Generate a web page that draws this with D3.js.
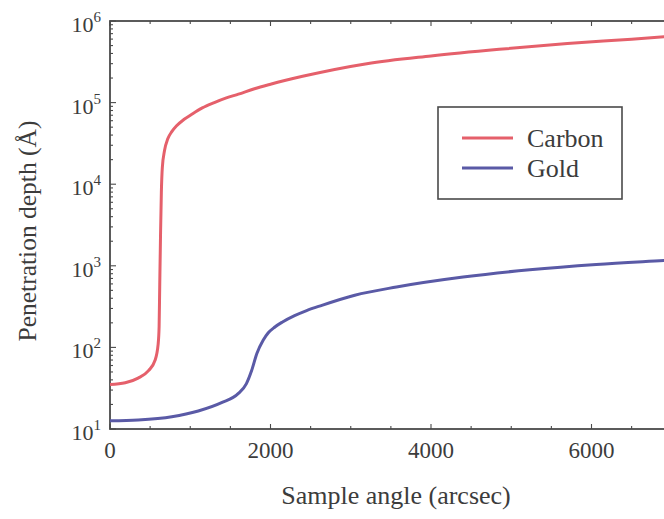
<!DOCTYPE html>
<html><head><meta charset="utf-8">
<script src="https://cdn.jsdelivr.net/npm/d3@7"></script>
<style>
html,body{margin:0;padding:0;background:#fff;}
svg{display:block;font-family:"Liberation Serif","Times New Roman",serif;}
</style></head>
<body><svg id="c" width="664" height="519"></svg>
<script>
// Data
const carbonAngle = [0, 190, 350, 480, 560, 600, 612, 620, 630, 640, 652, 680, 720, 770, 830, 920, 1020, 1150, 1300, 1450, 1600, 1800, 2000, 2400, 3200, 4000, 4850, 5700, 6500, 7000];
const carbonDepth = [35, 36.8, 42, 52, 69, 110, 180, 600, 2500, 8000, 16000, 26000, 36000, 44000, 52000, 62000, 72000, 86000, 100000, 114000, 127000, 148000, 168000, 210000, 300000, 373000, 450000, 530000, 598000, 650000];
const goldAngle = [0, 350, 770, 1100, 1390, 1600, 1700, 1765, 1830, 1910, 1970, 2055, 2150, 2300, 2450, 2640, 3050, 3570, 4400, 5230, 6060, 6900, 7000];
const goldDepth = [12.6, 12.9, 14.1, 16.6, 21, 27.3, 36, 52, 84, 123, 150, 178, 205, 245, 283, 328, 436, 550, 728, 895, 1040, 1160, 1175];
const seriesNames = ["Carbon", "Gold"];
const xTickValues = [0, 2000, 4000, 6000];
const yDecades = [1, 2, 3, 4, 5, 6];
const xLabel = "Sample angle (arcsec)";
const yLabel = "Penetration depth (Å)";

(function () {
const colors = ["#e5606b", "#5a5aa6"];
const textColor = "#3c3c3c";
const frameColor = "#4a4a4a";

const svg = d3.select("#c");
const x = d3.scaleLinear().domain([0, 7000]).range([110, 671.75]);
const y = d3.scaleLog().domain([10, 1e6]).range([429, 21]);

const pL = x(0), pR = x(7000), pT = y(1e6), pB = y(10);
svg.append("rect").attr("x", pL).attr("y", pT).attr("width", pR - pL).attr("height", pB - pT)
  .attr("fill", "none").attr("stroke", frameColor).attr("stroke-width", 1.8);

const xMinor = d3.range(0, 7001, 500);
const tickG = svg.append("g").attr("stroke", frameColor).attr("stroke-width", 1.1);
xMinor.forEach(v => {
  const len = (v % 2000 === 0) ? 5 : 3;
  tickG.append("line").attr("x1", x(v)).attr("x2", x(v)).attr("y1", pB).attr("y2", pB - len);
  tickG.append("line").attr("x1", x(v)).attr("x2", x(v)).attr("y1", pT).attr("y2", pT + len);
});
yDecades.forEach((d, i) => {
  tickG.append("line").attr("x1", pL).attr("x2", pL + 6).attr("y1", y(Math.pow(10, d))).attr("y2", y(Math.pow(10, d)));
  if (i < yDecades.length - 1) {
    for (let m = 2; m <= 9; m++) {
      const v = m * Math.pow(10, d);
      tickG.append("line").attr("x1", pL).attr("x2", pL + 3).attr("y1", y(v)).attr("y2", y(v));
    }
  }
});

yDecades.forEach(d => {
  const t = svg.append("text").attr("x", 101).attr("y", y(Math.pow(10, d)) + 11)
    .attr("text-anchor", "end").attr("fill", textColor).attr("font-size", 22);
  t.append("tspan").text("10");
  t.append("tspan").attr("dy", -10).attr("font-size", 15).text(String(d));
});

xTickValues.forEach(v => {
  svg.append("text").attr("x", x(v)).attr("y", 458).attr("text-anchor", "middle")
    .attr("fill", textColor).attr("font-size", 23).text(String(v));
});

svg.append("text").attr("x", 396).attr("y", 504).attr("text-anchor", "middle")
  .attr("fill", textColor).attr("font-size", 26).text(xLabel);
svg.append("text").attr("transform", "translate(36,231) rotate(-90)").attr("text-anchor", "middle")
  .attr("fill", textColor).attr("font-size", 25.5).text(yLabel);

const clip = svg.append("defs").append("clipPath").attr("id", "plot");
clip.append("rect").attr("x", pL).attr("y", pT).attr("width", pR - pL).attr("height", pB - pT);
const line = d3.line().x(d => x(d[0])).y(d => y(d[1])).curve(d3.curveMonotoneX);
const carbon = carbonAngle.map((a, i) => [a, carbonDepth[i]]);
const gold = goldAngle.map((a, i) => [a, goldDepth[i]]);
const plotG = svg.append("g").attr("clip-path", "url(#plot)");
[carbon, gold].forEach((s, i) => {
  plotG.append("path").datum(s).attr("d", line).attr("fill", "none")
    .attr("stroke", colors[i]).attr("stroke-width", 3).attr("stroke-linejoin", "round");
});

const lg = svg.append("g");
lg.append("rect").attr("x", 438).attr("y", 107).attr("width", 184).attr("height", 92)
  .attr("fill", "#fff").attr("stroke", frameColor).attr("stroke-width", 1.6);
seriesNames.forEach((n, i) => {
  const yy = 138 + i * 30;
  lg.append("line").attr("x1", 462).attr("x2", 513).attr("y1", yy).attr("y2", yy)
    .attr("stroke", colors[i]).attr("stroke-width", 3);
  lg.append("text").attr("x", 527).attr("y", yy + 8.5).attr("fill", textColor)
    .attr("font-size", 26).text(n);
});
})();
</script></body></html>
